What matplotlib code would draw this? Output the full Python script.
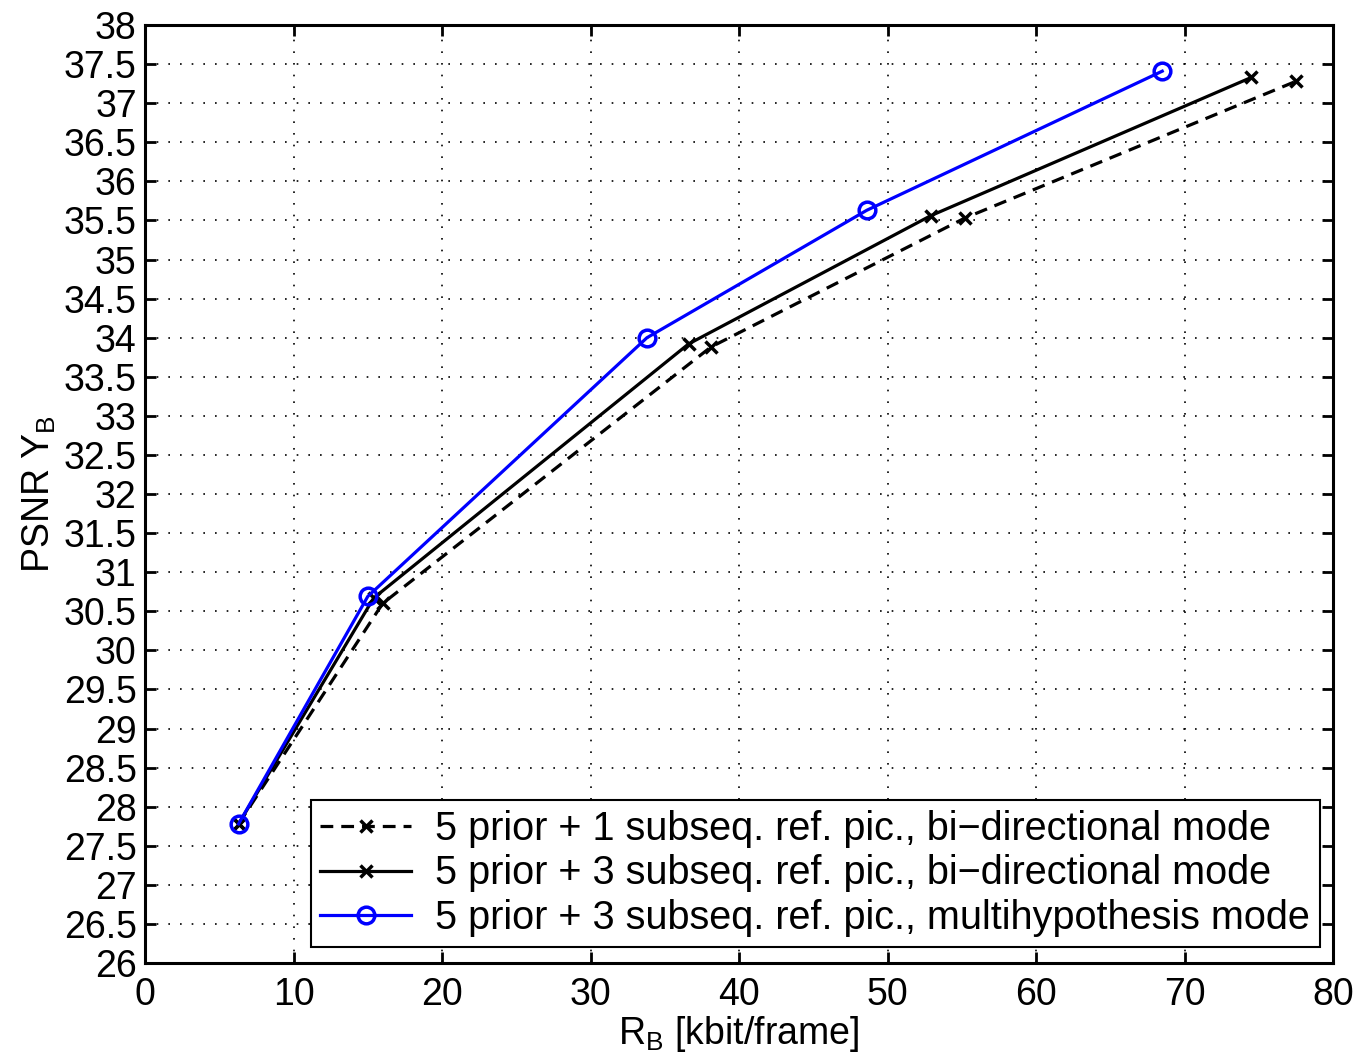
import numpy as np
import matplotlib
matplotlib.use("Agg")
import matplotlib.pyplot as plt

plt.rcParams['font.family'] = ['Liberation Sans', 'DejaVu Sans']

# rate (kbit/frame) and PSNR values per curve
rate_1sub_bi = [6.3, 16.0, 38.1, 55.2, 77.5]
psnr_1sub_bi = [27.78, 30.60, 33.88, 35.53, 37.28]

rate_3sub_bi = [6.3, 15.4, 36.6, 52.9, 74.5]
psnr_3sub_bi = [27.78, 30.67, 33.92, 35.56, 37.33]

rate_3sub_mh = [6.3, 15.0, 33.8, 48.6, 68.5]
psnr_3sub_mh = [27.78, 30.69, 34.00, 35.63, 37.41]

labels = [
    "5 prior + 1 subseq. ref. pic., bi\u2212directional mode",
    "5 prior + 3 subseq. ref. pic., bi\u2212directional mode",
    "5 prior + 3 subseq. ref. pic., multihypothesis mode",
]

FS = 27

fig = plt.figure(figsize=(13.58, 10.57), dpi=100)
ax = fig.add_axes([0.1068, 0.0889, 0.8748, 0.8874])

ax.plot(rate_1sub_bi, psnr_1sub_bi, color='black', linestyle=(0, (4, 2.5)), lw=2.3,
        marker='x', ms=9, mew=2.5, label=labels[0])
ax.plot(rate_3sub_bi, psnr_3sub_bi, color='black', linestyle='-', lw=2.3,
        marker='x', ms=9, mew=2.5, label=labels[1])
ax.plot(rate_3sub_mh, psnr_3sub_mh, color='#0000ff', linestyle='-', lw=2.3,
        marker='o', ms=12, mew=2.5, mfc='none', label=labels[2])

ax.set_xlim(0, 80)
ax.set_ylim(26, 38)
ax.set_xticks(np.arange(0, 81, 10))
ax.set_yticks(np.arange(26, 38.01, 0.5))
ax.set_yticklabels([('%g' % v) for v in np.arange(26, 38.01, 0.5)])
ax.tick_params(direction='in', labelsize=FS, length=8, width=2, top=True, right=True)
ax.tick_params(axis='y', pad=6)
ax.tick_params(axis='x', pad=10)
for s in ax.spines.values():
    s.set_linewidth(2.2)
ax.grid(True, color='black', linestyle=(0, (1, 6)), linewidth=1.2)

ax.set_xlabel(r"R$_\mathregular{B}$ [kbit/frame]", fontsize=FS, labelpad=1)
ax.set_ylabel(r"PSNR Y$_\mathregular{B}$", fontsize=FS, labelpad=4)

leg = ax.legend(loc='lower right', bbox_to_anchor=(1320 / 1358, 110 / 1057),
                bbox_transform=fig.transFigure, borderaxespad=0,
                fontsize=28.5, frameon=True, fancybox=False,
                edgecolor='black', framealpha=1,
                handlelength=2.3, handletextpad=0.6, labelspacing=0.17, borderpad=0.25)
leg.get_frame().set_linewidth(1.5)

fig.savefig("out.png", dpi=100)
